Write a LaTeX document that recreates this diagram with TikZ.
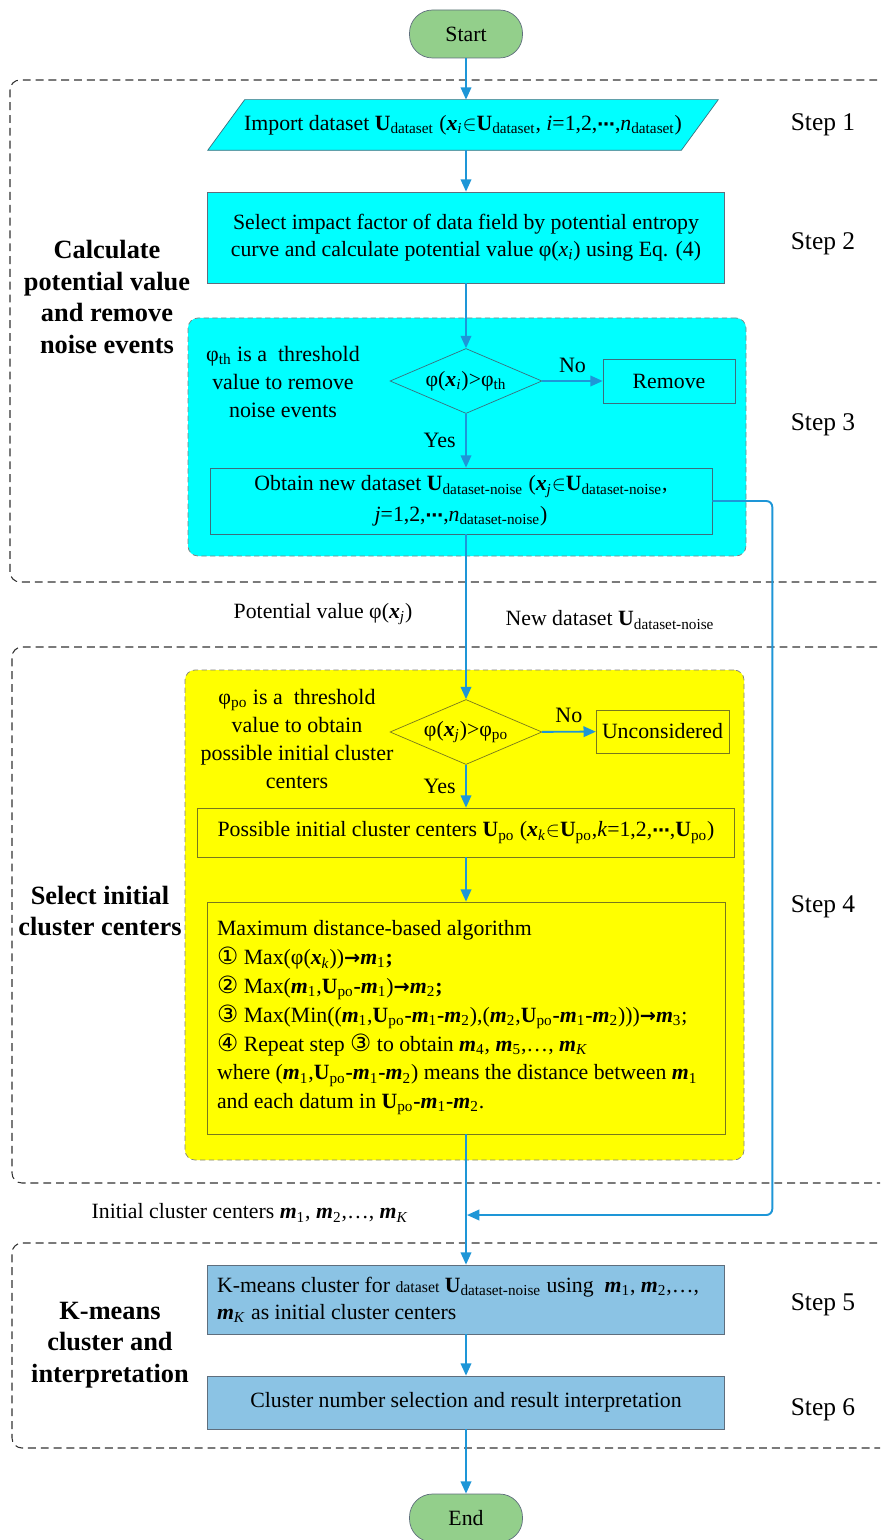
\documentclass[tikz,border=0pt]{standalone}
\usepackage{fontspec}
\setmainfont{Liberation Serif}
\newfontfamily\symfont{DejaVu Sans}
\usepackage{tikz}
\usetikzlibrary{shapes.geometric, arrows.meta, positioning, fit, backgrounds}
\definecolor{flowblue}{RGB}{30, 150, 215}
\definecolor{stagecyan}{RGB}{0, 255, 255}
\definecolor{stageyellow}{RGB}{255, 255, 0}
\definecolor{stepsteel}{RGB}{139, 195, 228}
\definecolor{termgreen}{RGB}{147, 207, 139}
\definecolor{cyanedge}{RGB}{60, 110, 125}
\definecolor{yellowedge}{RGB}{120, 120, 30}
\definecolor{boxedge}{RGB}{95, 110, 125}

\newcommand{\vx}{\textbf{\textit{x}}}
\newcommand{\vU}{\textbf{U}}
\newcommand{\vm}{\textbf{\textit{m}}}
\newcommand{\sbs}[1]{\textsubscript{#1}}
\newcommand{\dts}{{\symfont\bfseries\fontsize{10}{10}\selectfont ⋯}}
\newcommand{\gives}{{\symfont\bfseries\fontsize{11}{11}\selectfont →}}
\newcommand{\circnum}[1]{{\symfont\fontsize{13.5}{13.5}\selectfont #1}}

\begin{document}
\begin{tikzpicture}[x=0.02cm, y=-0.02cm,
        every node/.style={font=\fontsize{12.4}{15.3}\selectfont},
        terminal/.style={draw=boxedge, fill=termgreen, rounded corners=0.46cm, minimum width=2.26cm, minimum height=0.96cm},
        iotext/.style={minimum width=9.46cm, minimum height=1cm, inner sep=0pt},
        process/.style={draw=boxedge, minimum height=0.9cm, align=center},
        decision/.style={draw, diamond, aspect=2.34, minimum width=3.04cm, minimum height=1.3cm, inner sep=0pt},
        stage/.style={draw=black!80, line width=0.6pt, dash pattern=on 4.5pt off 2.8pt, rounded corners=0.2cm, inner sep=0pt},
        group/.style={draw=black!50, dash pattern=on 3pt off 2pt, rounded corners=0.2cm, inner sep=0pt},
        phase/.style={font=\fontsize{15}{18.1}\selectfont\bfseries, align=center},
        steplabel/.style={font=\fontsize{14.5}{17}\selectfont},
        note/.style={align=center, font=\fontsize{12.5}{15.9}\selectfont},
        branch/.style={text=black, font=\fontsize{12.5}{15}\selectfont},
        arrow/.style={flowblue, line width=1.1pt, -{Triangle[length=7pt, width=6pt]}}
    ]
        \useasboundingbox (0,0) rectangle (880,1540);
        \clip (0,0) rectangle (880,1540);

        \node[stage, fit={(10,80) (900,582)}] (stage1) {};
        \node[stage, fit={(12,647) (900,1183)}] (stage2) {};
        \node[stage, fit={(12,1243) (900,1448)}] (stage3) {};
        \node[group, fill=stagecyan, fit={(188,318) (746,556)}] (noisegroup) {};
        \node[group, fill=stageyellow, fit={(185,670) (744,1160)}] (centergroup) {};

        \node[terminal] (start) at (466,34) {Start};
        \node[iotext] (input) at (463,125) {Import dataset \vU\sbs{dataset} (\vx\sbs{\textit{i}}$\in$\vU\sbs{dataset}, \textit{i}=1,2,\dts,\textit{n}\sbs{dataset})};
        \begin{scope}[on background layer]
            \draw[draw=cyanedge, fill=stagecyan] ([xshift=0.37cm]input.north west) -- ([xshift=0.37cm]input.north east)
                -- ([xshift=-0.37cm]input.south east) -- ([xshift=-0.37cm]input.south west) -- cycle;
        \end{scope}
        \node[process, fill=stagecyan, minimum width=10.34cm, minimum height=1.82cm] (field) at (466,237.5) {Select impact factor of data field by potential entropy\\curve and calculate potential value φ(\textit{x}\sbs{\textit{i}}) using Eq. (4)};
        \node[decision, draw=cyanedge] (dec1) at (466,381) {φ(\vx\sbs{\textit{i}})>φ\sbs{th}};
        \node[process, draw=cyanedge, minimum width=2.64cm, minimum height=0.88cm] (remove) at (669,381) {Remove};
        \node[process, draw=cyanedge, minimum width=10.04cm, minimum height=1.32cm, font=\fontsize{12.4}{17.5}\selectfont] (newset) at (461,501) {Obtain new dataset \vU\sbs{dataset-noise} (\vx\sbs{\textit{j}}$\in$\vU\sbs{dataset-noise},\\\textit{j}=1,2,\dts,\textit{n}\sbs{dataset-noise})};
        \node[note] (thres1) at (283,382) {φ\sbs{th} is a\ \ threshold\\value to remove\\noise events};

        \node[decision, draw=yellowedge] (dec2) at (466,732) {φ(\vx\sbs{\textit{j}})>φ\sbs{po}};
        \node[process, draw=yellowedge, minimum width=2.62cm, minimum height=0.86cm] (uncons) at (662.5,731.5) {Unconsidered};
        \node[note] (thres2) at (297,739) {φ\sbs{po} is a\ \ threshold\\value to obtain\\possible initial cluster\\centers};
        \node[process, draw=yellowedge, minimum width=10.74cm, minimum height=0.98cm] (possible) at (466,832.5) {Possible initial cluster centers \vU\sbs{po} (\vx\sbs{\textit{k}}$\in$\vU\sbs{po},\textit{k}=1,2,\dts,\vU\sbs{po})};
        \node[process, draw=yellowedge, minimum width=10.36cm, minimum height=4.64cm, text width=9.96cm, align=flush left, font=\fontsize{12.4}{16.4}\selectfont] (maxalg) at (466,1018) {Maximum distance-based algorithm\\
            \circnum{①} Max(φ(\vx\sbs{\textit{k}}))\gives\vm\sbs{1}\textbf{;}\\
            \circnum{②} Max(\vm\sbs{1},\vU\sbs{po}\textbf{-}\vm\sbs{1})\gives\vm\sbs{2}\textbf{;}\\
            \circnum{③} Max(Min((\vm\sbs{1},\vU\sbs{po}\textbf{-}\vm\sbs{1}\textbf{-}\vm\sbs{2}),(\vm\sbs{2},\vU\sbs{po}\textbf{-}\vm\sbs{1}\textbf{-}\vm\sbs{2})))\gives\vm\sbs{3};\\
            \circnum{④} Repeat step \circnum{③} to obtain \vm\sbs{4}, \vm\sbs{5},…, \vm\sbs{\textit{K}}\\
            where (\vm\sbs{1},\vU\sbs{po}\textbf{-}\vm\sbs{1}\textbf{-}\vm\sbs{2}) means the distance between \vm\sbs{1}\\
            and each datum in \vU\sbs{po}\textbf{-}\vm\sbs{1}\textbf{-}\vm\sbs{2}.};

        \node[process, fill=stepsteel, minimum width=10.34cm, minimum height=1.38cm, text width=9.96cm, align=flush left] (kmeans) at (466,1299.5) {K-means cluster for {\small dataset} \vU\sbs{dataset-noise} using\ \ \vm\sbs{1}, \vm\sbs{2},…,\\\vm\sbs{\textit{K}} as initial cluster centers};
        \node[process, fill=stepsteel, minimum width=10.34cm, minimum height=1.06cm] (select) at (466,1402.5) {Cluster number selection and result interpretation};
        \node[terminal] (end) at (466,1518) {End};

        \node[phase] (phase1) at (107,297) {Calculate\\potential value\\and remove\\noise events};
        \node[phase] (phase2) at (100,911) {Select initial\\cluster centers};
        \node[phase] (phase3) at (110,1345) {K-means\\cluster and\\interpretation};

        \node[steplabel] (step1) at (823,125) {Step 1};
        \node[steplabel] (step2) at (823,244) {Step 2};
        \node[steplabel] (step3) at (823,425) {Step 3};
        \node[steplabel] (step4) at (823,907) {Step 4};
        \node[steplabel] (step5) at (823,1305) {Step 5};
        \node[steplabel] (step6) at (823,1410) {Step 6};

        \node (potential) at (323,614) {Potential value φ(\vx\sbs{\textit{j}})};
        \node (newdata) at (610,620) {New dataset \vU\sbs{dataset-noise}};
        \node (initial) at (250,1213) {Initial cluster centers \vm\sbs{1}, \vm\sbs{2},…, \vm\sbs{\textit{K}}};
        \coordinate (merge) at (467,1215);

        \draw[arrow] (start) -- (start |- input.north);
        \draw[arrow] (start |- input.south) -- (field);
        \draw[arrow] (field) -- (dec1);
        \draw[arrow] (dec1) -- node[branch, above=1pt] {No} (remove);
        \draw[arrow] (dec1) -- node[branch, left=2pt] {Yes} (dec1 |- newset.north);
        \draw[arrow] (dec1 |- newset.south) -- (dec2);
        \draw[arrow, rounded corners=0.12cm] (newset.east) -| ([xshift=1.2cm]newset.east |- merge) -- (merge);
        \draw[arrow] (dec2) -- node[branch, above=1pt] {No} (uncons);
        \draw[arrow] (dec2) -- node[branch, left=2pt] {Yes} (possible);
        \draw[arrow] (possible) -- (maxalg);
        \draw[arrow] (maxalg) -- (kmeans);
        \draw[arrow] (kmeans) -- (select);
        \draw[arrow] (select) -- (end);
    \end{tikzpicture}
\end{document}
